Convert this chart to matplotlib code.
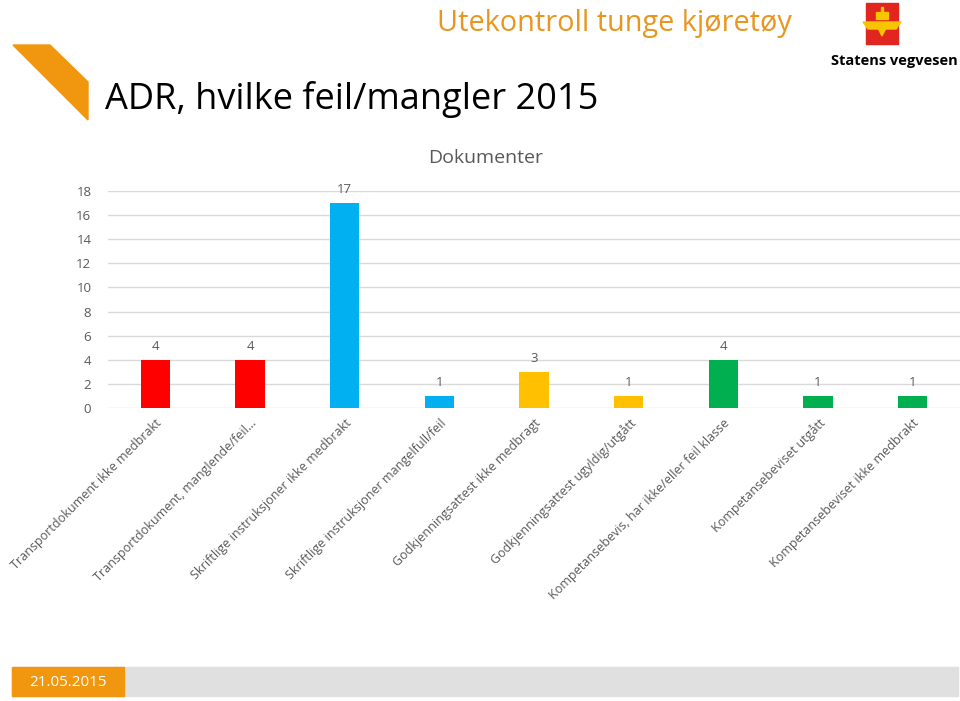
import matplotlib.pyplot as plt
from matplotlib.patches import Polygon, Rectangle

# Data
kategorier = [
    "Transportdokument ikke medbrakt",
    "Transportdokument, manglende/feil...",
    "Skriftlige instruksjoner ikke medbrakt",
    "Skriftlige instruksjoner mangelfull/feil",
    "Godkjenningsattest ikke medbragt",
    "Godkjenningsattest ugyldig/utgått",
    "Kompetansebevis, har ikke/eller feil klasse",
    "Kompetansebeviset utgått",
    "Kompetansebeviset ikke medbrakt",
]
antall = [4, 4, 17, 1, 3, 1, 4, 1, 1]
farger = ["#FF0000", "#FF0000", "#00B0F0", "#00B0F0", "#FFC000",
          "#FFC000", "#00B050", "#00B050", "#00B050"]
yticks = [0, 2, 4, 6, 8, 10, 12, 14, 16, 18]

plt.rcParams['font.family'] = ['Open Sans', 'DejaVu Sans']

W, H = 960, 701
fig = plt.figure(figsize=(W / 100, H / 100), dpi=100)

# Chart area (pixel coords -> figure fractions)
x0, x1 = 108, 960
y_top, y_bot = 191, 408
ax = fig.add_axes([x0 / W, 1 - y_bot / H, (x1 - x0) / W, (y_bot - y_top) / H])
x = range(len(antall))
ax.bar(x, antall, width=0.31, color=farger, zorder=3)
ax.set_xlim(-0.5, len(antall) - 0.5)
ax.set_ylim(0, 18)
ax.set_yticks(yticks)
ax.yaxis.grid(True, color="#D9D9D9", linewidth=1, zorder=0)
for s in ax.spines.values():
    s.set_visible(False)
ax.tick_params(axis='y', length=0, pad=12, labelsize=9.5, labelcolor="#595959")
ax.tick_params(axis='x', length=0, pad=6)
ax.set_xticks(list(x))
ax.set_xticklabels(kategorier, rotation=45, ha='right', va='top',
                   rotation_mode='anchor', fontsize=9, color="#595959")
for xi, v in zip(x, antall):
    ax.text(xi, v + 0.6, str(v), ha='center', va='bottom', fontsize=9.5, color="#595959")

fig.text(486 / W, 1 - 158 / H, "Dokumenter", ha='center', va='center',
         fontsize=14, color="#595959")

# Header
fig.text(437 / W, 1 - 23 / H, "Utekontroll tunge kjøretøy", ha='left', va='center',
         fontsize=20.8, color="#E8961E")
fig.text(105 / W, 1 - 99 / H, "ADR, hvilke feil/mangler 2015", ha='left', va='center',
         fontsize=26, color="black")

deco = fig.add_axes([0, 0, 1, 1], zorder=-1)
deco.set_xlim(0, W)
deco.set_ylim(H, 0)
deco.axis('off')
deco.add_patch(Polygon([(13, 45), (50, 45), (88, 82), (88, 120)], closed=True,
                       color="#F0960F"))
# Logo
deco.add_patch(Rectangle((866, 3), 32, 41, color="#E0261E"))
deco.add_patch(Polygon([(875, 22), (889, 22), (882, 36)], closed=True, color="#F6C500"))
deco.add_patch(Polygon([(863, 22), (875, 22), (878, 29), (868, 29)], closed=True, color="#F6C500"))
deco.add_patch(Polygon([(889, 22), (901, 22), (896, 29), (886, 29)], closed=True, color="#F6C500"))
deco.add_patch(Rectangle((876, 12), 12, 7, color="#F6C500"))
deco.add_patch(Rectangle((881, 7), 2, 5, color="#F6C500"))
fig.text(894 / W, 1 - 61 / H, "Statens vegvesen", ha='center', va='center',
         fontsize=10.5, fontweight='bold', color="black")

# Footer
deco.add_patch(Rectangle((12, 667), 946, 29, color="#E0E0E0"))
deco.add_patch(Rectangle((12, 667), 112, 29, color="#F0960F"))
fig.text(68 / W, 1 - 682 / H, "21.05.2015", ha='center', va='center',
         fontsize=11, color="white")

fig.savefig("out.png", dpi=100)
